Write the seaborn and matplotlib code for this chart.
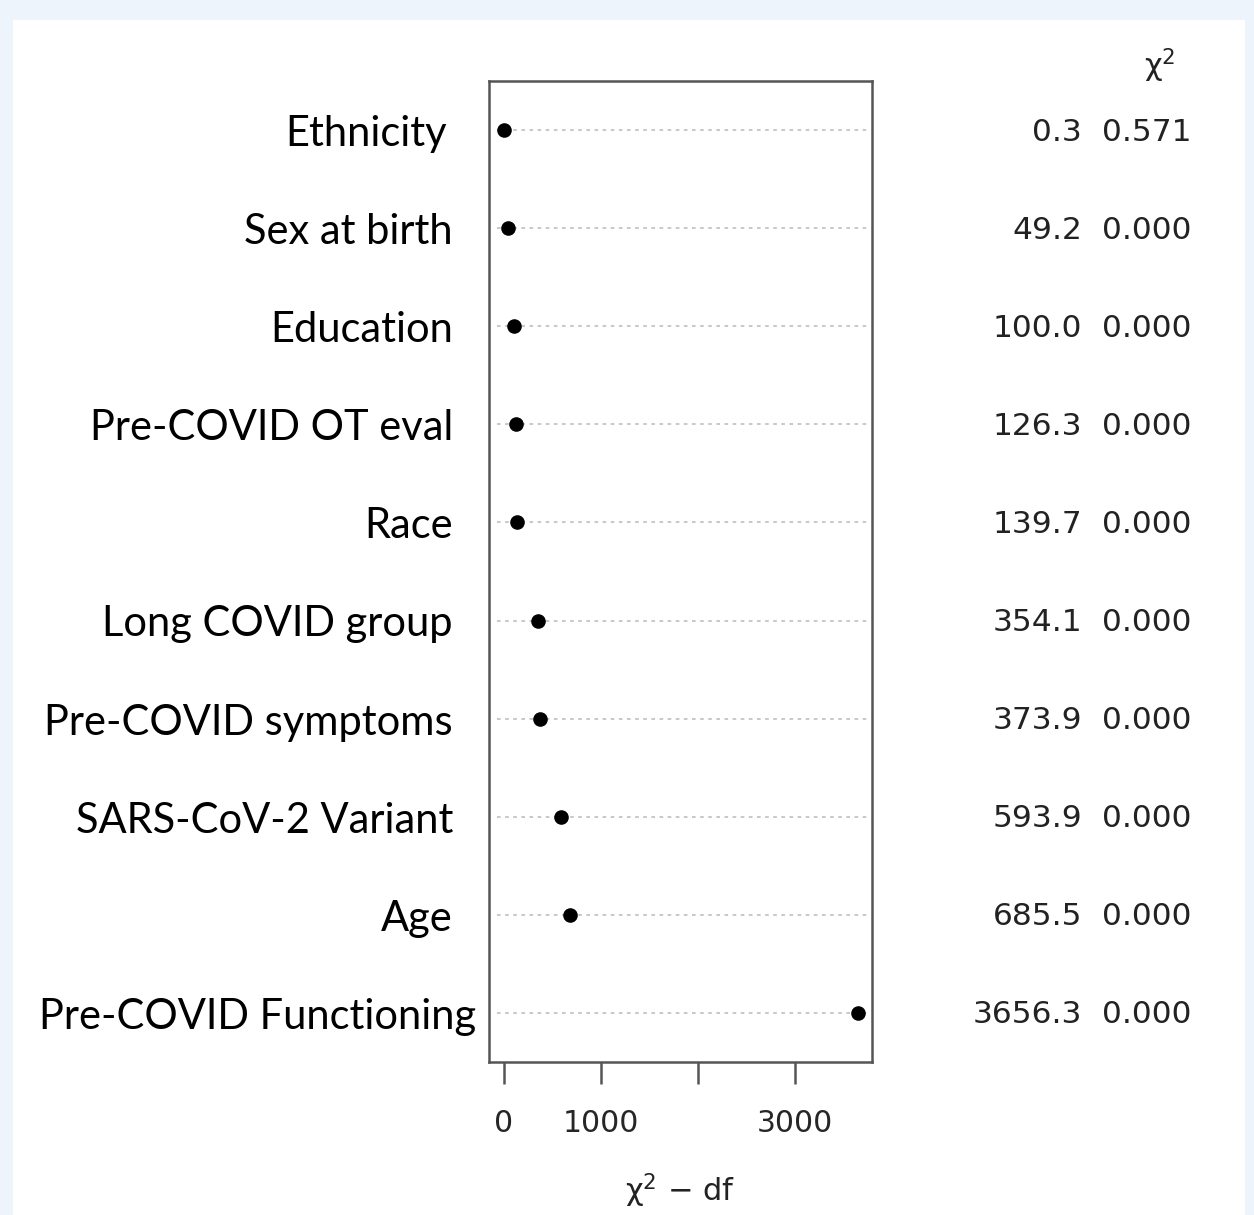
import matplotlib
matplotlib.use("Agg")
import matplotlib.pyplot as plt
import seaborn as sns
import pandas as pd
from matplotlib.patches import Rectangle
import matplotlib.transforms as mtransforms

predictors = ["Ethnicity", "Sex at birth", "Education", "Pre-COVID OT eval", "Race",
              "Long COVID group", "Pre-COVID symptoms", "SARS-CoV-2 Variant", "Age",
              "Pre-COVID Functioning"]
chi2_minus_df = [-0.7, 45, 100, 122, 133, 352, 370, 590, 680, 3650]
chi2_values = ["0.3", "49.2", "100.0", "126.3", "139.7", "354.1", "373.9", "593.9", "685.5", "3656.3"]
p_values = ["0.571", "0.000", "0.000", "0.000", "0.000", "0.000", "0.000", "0.000", "0.000", "0.000"]
x_ticks = [0, 1000, 2000, 3000]
x_ticklabels = ["0", "1000", "", "3000"]

df = pd.DataFrame({"predictor": predictors, "value": chi2_minus_df})

sns.set_theme(style="white")
plt.rcParams["font.family"] = ["DejaVu Sans"]

W, H = 1254, 1215
fig = plt.figure(figsize=(W / 100, H / 100), dpi=100, facecolor="#EDF4FC")
fig.patches.append(Rectangle((13 / W, 0), 1232 / W, (H - 20) / H, transform=fig.transFigure,
                             facecolor="white", edgecolor="none", zorder=-10))

ax = fig.add_axes([489 / W, (H - 1062) / H, 383 / W, 981 / H])
ax.set_zorder(5)
ax.set_facecolor("white")

for i in range(len(predictors)):
    ax.axhline(i, xmin=0.02, xmax=0.995, color="#c4c4c4", lw=1.3, ls=(0, (2, 2.5)), zorder=1)

sns.stripplot(data=df, x="value", y="predictor", order=predictors, jitter=False,
              color="black", size=10.5, linewidth=0, ax=ax, zorder=3)

ax.set_xlim(-155, 3794)
ax.set_ylim(len(predictors) - 0.5, -0.5)
ax.set_xlabel("")
ax.set_ylabel("")
ax.set_yticks([])
ax.set_xticks(x_ticks)
ax.set_xticklabels(x_ticklabels)
ax.tick_params(axis="x", bottom=True, length=16, width=1.8, color="#555555", pad=18,
               labelsize=21.5, labelcolor="#262626", direction="out")
for sp in ax.spines.values():
    sp.set_color("#555555")
    sp.set_linewidth(1.8)
    sp.set_visible(True)

# predictor labels (left)
lab_trans = mtransforms.blended_transform_factory(fig.transFigure, ax.transData)
label_right = {"Ethnicity": 447, "Pre-COVID Functioning": 476}
for i, name in enumerate(predictors):
    xr = label_right.get(name, 453)
    fig.text(xr / W, i + 0.04, name, transform=lab_trans, ha="right", va="center",
             fontsize=30, family=["Lato", "DejaVu Sans"], color="black", zorder=6)

# statistic columns (right)
for i in range(len(predictors)):
    fig.text(1082 / W, i + 0.02, chi2_values[i], transform=lab_trans, ha="right", va="center",
             fontsize=22.5, color="#222222", zorder=6)
    fig.text(1192 / W, i + 0.02, p_values[i], transform=lab_trans, ha="right", va="center",
             fontsize=22.5, color="#222222", zorder=6)

fig.text(1160 / W, 1 - 66 / H, "χ$^2$", ha="center", va="center", fontsize=22, color="#222222")
fig.text(680 / W, 1 - 1191 / H, "χ$^2$ − df", ha="center", va="center", fontsize=22, color="#222222")

fig.savefig("out.png", dpi=100, facecolor=fig.get_facecolor())
